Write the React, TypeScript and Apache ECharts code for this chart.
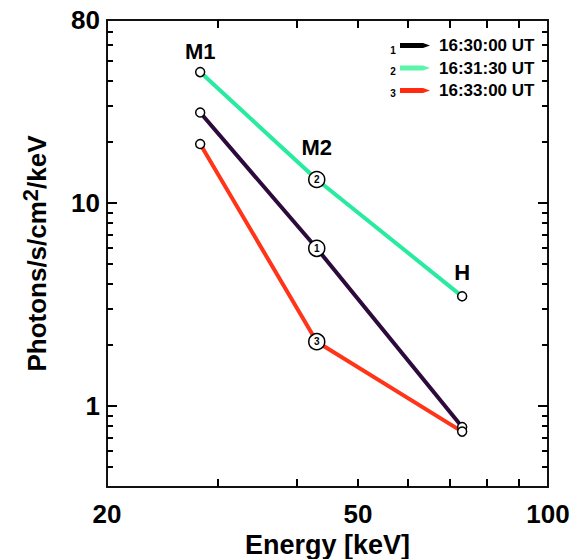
import React, { useEffect, useRef } from 'react';
import * as echarts from 'echarts';

// ---- data ----
const energies = [28.1, 43.0, 73.1];
const pointNames = ['M1', 'M2', 'H'];
const seriesNames = ['16:30:00 UT', '16:31:30 UT', '16:33:00 UT'];
const seriesTags = ['1', '2', '3'];
const flux1630 = [28.0, 6.0, 0.79];
const flux1631 = [44.3, 13.1, 3.48];
const flux1633 = [19.6, 2.08, 0.75];
const xTickValues = [30, 40, 50, 60, 70, 80, 90];
const xLabelValues = [20, 50, 100];
const yMajorTicks = [1, 10];
const yMinorTicks = [0.5, 0.6, 0.7, 0.8, 0.9, 2, 3, 4, 5, 6, 7, 8, 9, 20, 30, 40, 50, 60, 70];
const yLabelValues = [1, 10, 80];
const xRange = [20, 100];
const yRange = [0.4, 80];

// ---- styles ----
const FONT = '"Liberation Sans", Arial, Helvetica, sans-serif';
const lineColors = ['#2d0a3c', '#28eba0', '#ff3418'];
const legendColors = ['#000000', '#5af5a8', '#ff2a10'];
const seriesValues = [flux1630, flux1631, flux1633];
const labelDistances = [10, 21, 13];
const ARROW = 'path://M0,0 L23,0 L30,2.5 L23,5 L0,5 Z';
const X_TICK_LEN = 8;
const Y_MAJOR_LEN = 10;
const Y_MINOR_LEN = 6;
const TICK_W = 2;
const TICK_FILL = { fill: '#000' };

const axisLine = { show: true, lineStyle: { color: '#111', width: 2 } };

function xAxisDef(position: 'bottom' | 'top', withLabels: boolean) {
  return {
    type: 'log',
    logBase: 10,
    min: xRange[0],
    max: xRange[1],
    position,
    axisLine,
    splitLine: { show: false },
    minorTick: { show: false },
    axisTick: { show: false },
    axisLabel: withLabels
      ? {
          show: true,
          customValues: xLabelValues,
          fontSize: 26,
          fontWeight: 'bold',
          fontFamily: FONT,
          color: '#000',
          margin: 14,
        }
      : { show: false },
    name: withLabels ? 'Energy [keV]' : '',
    nameLocation: 'middle',
    nameGap: 42,
    nameTextStyle: { fontSize: 27, fontWeight: 'bold', fontFamily: FONT, color: '#000' },
  };
}

function yAxisDef(position: 'left' | 'right', withLabels: boolean) {
  return {
    type: 'log',
    logBase: 10,
    min: yRange[0],
    max: yRange[1],
    position,
    axisLine,
    splitLine: { show: false },
    minorTick: { show: false },
    axisTick: { show: false },
    axisLabel: withLabels
      ? {
          show: true,
          customValues: yLabelValues,
          fontSize: 26,
          fontWeight: 'bold',
          fontFamily: FONT,
          color: '#000',
          margin: 7,
        }
      : { show: false },
    name: withLabels ? '{a|Photons/s/cm}{b|2}{a|/keV}' : '',
    nameLocation: 'middle',
    nameRotate: 90,
    nameGap: 52,
    nameTextStyle: {
      rich: {
        a: { fontSize: 26, fontWeight: 'bold', fontFamily: FONT, color: '#000', lineHeight: 36 },
        b: {
          fontSize: 22,
          fontWeight: 'bold',
          fontFamily: FONT,
          color: '#000',
          lineHeight: 22,
          verticalAlign: 'top',
        },
      },
    },
  };
}

export default function App() {
  const ref = useRef<HTMLDivElement>(null);

  useEffect(() => {
    if (!ref.current) return;
    const chart = echarts.init(ref.current, null, { renderer: 'svg' });

    const lineSeries = seriesNames.map((name, s) => ({
      name,
      type: 'line',
      xAxisIndex: 0,
      yAxisIndex: 0,
      symbol: 'circle',
      showSymbol: true,
      lineStyle: { color: lineColors[s], width: 4 },
      itemStyle: { color: '#fff', borderColor: '#000', borderWidth: 1.5 },
      z: 3,
      data: energies.map((e, i) => ({
        value: [e, seriesValues[s][i]],
        symbolSize: i === 1 ? 16 : 9,
        label:
          i === 1
            ? {
                show: true,
                position: 'inside',
                formatter: seriesTags[s],
                fontSize: 10,
                fontWeight: 'bold',
                fontFamily: FONT,
                color: '#000',
              }
            : { show: false },
      })),
    }));

    const nameSeries = {
      name: 'pointNames',
      type: 'scatter',
      xAxisIndex: 0,
      yAxisIndex: 0,
      symbolSize: 0,
      silent: true,
      z: 5,
      itemStyle: { opacity: 1 },
      data: energies.map((e, i) => ({
        value: [e, flux1631[i]],
        label: { distance: labelDistances[i] },
      })),
      label: {
        show: true,
        position: 'top',
        formatter: (p: any) => pointNames[p.dataIndex],
        fontSize: 22,
        fontWeight: 'bold',
        fontFamily: FONT,
        color: '#000',
        opacity: 1,
      },
    };

    const tagGraphics = seriesTags.map((t, i) => ({
      id: 'tag' + i,
      type: 'text',
      x: 393,
      y: 50 + i * 21.5,
      style: {
        text: t,
        fontSize: 10,
        fontWeight: 'bold',
        fontFamily: FONT,
        fill: '#000',
        textAlign: 'center',
        textVerticalAlign: 'middle',
      },
    }));

    chart.setOption({
      animation: false,
      backgroundColor: '#fff',
      grid: { left: 107, right: 37, top: 20, bottom: 72, outerBoundsMode: 'none', containLabel: false },
      xAxis: [xAxisDef('bottom', true), xAxisDef('top', false)],
      yAxis: [yAxisDef('left', true), yAxisDef('right', false)],
      legend: {
        orient: 'vertical',
        left: 400,
        top: 37,
        padding: 0,
        itemGap: 5.5,
        itemWidth: 30,
        itemHeight: 5,
        selectedMode: false,
        data: seriesNames.map((n, i) => ({
          name: n,
          icon: ARROW,
          itemStyle: { color: legendColors[i], borderWidth: 0 },
        })),
        textStyle: {
          fontSize: 17,
          fontWeight: 'bold',
          fontFamily: FONT,
          color: '#000',
          padding: [0, 0, 0, 4],
        },
      },
      series: [...lineSeries, nameSeries],
    });

    // axis extents in pixels from the library, ticks placed on the same log scale
    const left = Number(chart.convertToPixel({ xAxisIndex: 0 }, xRange[0]));
    const right = Number(chart.convertToPixel({ xAxisIndex: 0 }, xRange[1]));
    const bottom = Number(chart.convertToPixel({ yAxisIndex: 0 }, yRange[0]));
    const top = Number(chart.convertToPixel({ yAxisIndex: 0 }, yRange[1]));
    const lx = (v: number) =>
      Math.round(left + ((right - left) * Math.log10(v / xRange[0])) / Math.log10(xRange[1] / xRange[0]));
    const ly = (v: number) =>
      Math.round(bottom + ((top - bottom) * Math.log10(v / yRange[0])) / Math.log10(yRange[1] / yRange[0]));

    const tickGraphics: any[] = [];
    xTickValues.forEach((v, i) => {
      const x = lx(v) - TICK_W / 2;
      tickGraphics.push({
        id: 'xb' + i, type: 'rect', silent: true, z: 50,
        shape: { x, y: bottom - X_TICK_LEN, width: TICK_W, height: X_TICK_LEN },
        style: TICK_FILL,
      });
      tickGraphics.push({
        id: 'xt' + i, type: 'rect', silent: true, z: 50,
        shape: { x, y: top, width: TICK_W, height: X_TICK_LEN },
        style: TICK_FILL,
      });
    });
    const yTicks = [
      ...yMajorTicks.map((v) => [v, Y_MAJOR_LEN]),
      ...yMinorTicks.map((v) => [v, Y_MINOR_LEN]),
    ];
    yTicks.forEach(([v, len], i) => {
      const y = ly(v) - TICK_W / 2;
      tickGraphics.push({
        id: 'yl' + i, type: 'rect', silent: true, z: 50,
        shape: { x: left, y, width: len, height: TICK_W },
        style: TICK_FILL,
      });
      tickGraphics.push({
        id: 'yr' + i, type: 'rect', silent: true, z: 50,
        shape: { x: right - len, y, width: len, height: TICK_W },
        style: TICK_FILL,
      });
    });
    chart.setOption({ graphic: { elements: [...tagGraphics, ...tickGraphics] } });

    return () => chart.dispose();
  }, []);

  return (
    <div
      ref={ref}
      style={{ position: 'fixed', left: 0, top: 0, width: 585, height: 559, background: '#fff' }}
    />
  );
}
